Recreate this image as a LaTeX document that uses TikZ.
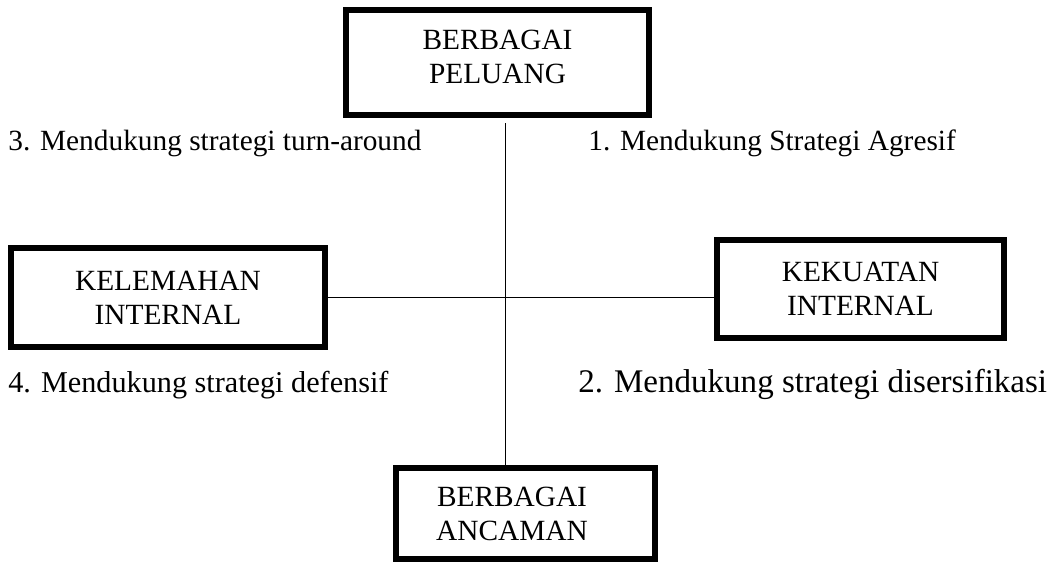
\documentclass[tikz,border=0pt]{standalone}
\usepackage{fontspec}
\setmainfont{Liberation Serif}
\usetikzlibrary{positioning}

\tikzset{
	kotak/.style={draw, line width=3.1pt, align=center, inner sep=0pt},
	garis/.style={line width=0.85pt},
	teks/.style={anchor=base west, inner sep=0pt}
}

\begin{document}
\begin{tikzpicture}[x=0.02cm, y=-0.02cm, font=\fontsize{16.7pt}{19.4pt}\selectfont]
		\useasboundingbox (0,0) rectangle (1052,565);

		% kotak-kotak
		\node[kotak, minimum width=6.06cm, minimum height=2.1cm] (peluang) at (497.5,62.5) {BERBAGAI\\PELUANG\\[-13pt]\mbox{}};
		\node[kotak, minimum width=6.28cm, minimum height=1.98cm] (kelemahan) at (168,297.5) {KELEMAHAN\\INTERNAL};
		\node[kotak, minimum width=5.74cm, minimum height=1.96cm] (kekuatan) at (860.5,289) {KEKUATAN\\INTERNAL};
		\node[kotak, minimum width=5.18cm, minimum height=1.82cm] (ancaman) at (525.5,513.5) {BERBAGAI\hspace*{0.54cm}\\ANCAMAN\hspace*{0.54cm}};

		% sumbu
		\coordinate (atas) at (505.5,123);
		\draw[garis] (atas) -- (atas |- ancaman.north);
		\draw[garis] (kelemahan.east) -- (kekuatan.west |- kelemahan.east);

		% kuadran
		\node[teks] (k3) at (8,150) {3. Mendukung strategi turn-around};
		\node[teks] (k1) at (588,150) {1. Mendukung Strategi Agresif};
		\node[teks, font=\fontsize{17.2pt}{20pt}\selectfont] (k4) at (8,392) {4. Mendukung strategi defensif};
		\node[teks, font=\fontsize{18.8pt}{22pt}\selectfont] (k2) at (578,392) {2. Mendukung strategi disersifikasi};
	\end{tikzpicture}
\end{document}
